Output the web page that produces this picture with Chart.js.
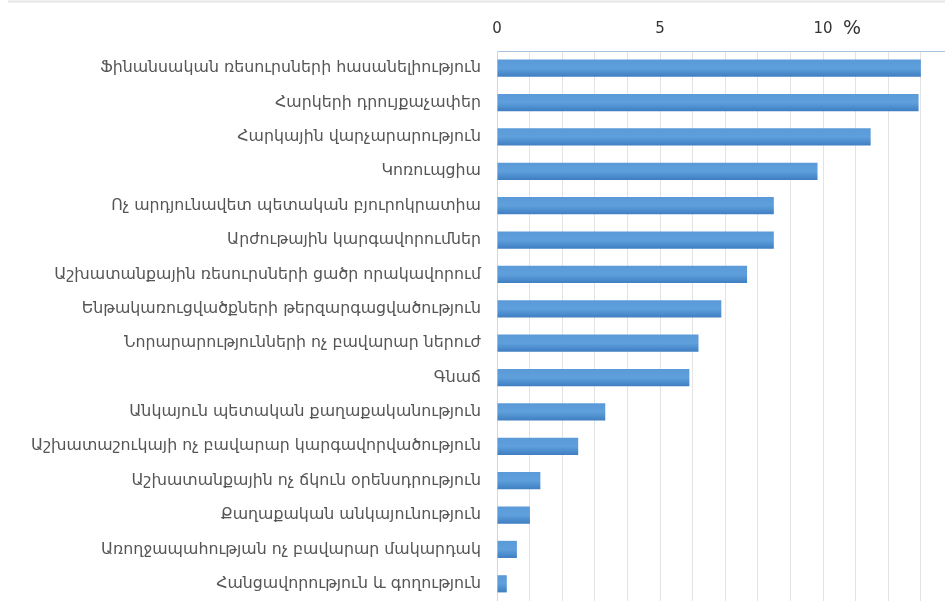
<!DOCTYPE html>
<html>
<head>
<meta charset="utf-8">
<script src="https://cdn.jsdelivr.net/npm/chart.js@4.4.0/dist/chart.umd.min.js"></script>
<style>
html,body{margin:0;padding:0;background:#fff;}
#wrap{width:945px;height:601px;position:relative;}
</style>
</head>
<body>
<div id="wrap"><canvas id="c" width="945" height="601"></canvas></div>
<script>
const categories = [
  "Ֆինանսական ռեսուրսների հասանելիություն",
  "Հարկերի դրույքաչափեր",
  "Հարկային վարչարարություն",
  "Կոռուպցիա",
  "Ոչ արդյունավետ պետական բյուրոկրատիա",
  "Արժութային կարգավորումներ",
  "Աշխատանքային ռեսուրսների ցածր որակավորում",
  "Ենթակառուցվածքների թերզարգացվածություն",
  "Նորարարությունների ոչ բավարար ներուժ",
  "Գնաճ",
  "Անկայուն պետական քաղաքականություն",
  "Աշխատաշուկայի ոչ բավարար կարգավորվածություն",
  "Աշխատանքային ոչ ճկուն օրենսդրություն",
  "Քաղաքական անկայունություն",
  "Առողջապահության ոչ բավարար մակարդակ",
  "Հանցավորություն և գողություն"
];
const values = [13.0, 12.93, 11.46, 9.83, 8.49, 8.49, 7.67, 6.88, 6.18, 5.9, 3.32, 2.49, 1.33, 1.01, 0.61, 0.3];
const tickValues = [0, 5, 10];
const unitLabel = "%";

const decorPlugin = {
  id: 'decor',
  beforeDraw(chart) {
    const ctx = chart.ctx;
    ctx.save();
    ctx.strokeStyle = '#e6e6e6';
    ctx.lineWidth = 2;
    ctx.beginPath();
    ctx.moveTo(8, 1.5);
    ctx.lineTo(945, 1.5);
    ctx.stroke();
    ctx.restore();
  },
  afterDraw(chart) {
    const xs = chart.scales.x;
    const ctx = chart.ctx;
    ctx.save();
    ctx.font = '19px "DejaVu Sans", sans-serif';
    ctx.fillStyle = '#333333';
    ctx.textAlign = 'center';
    ctx.textBaseline = 'middle';
    ctx.fillText(unitLabel, xs.getPixelForValue(10) + 29, 29);
    ctx.restore();
  }
};

new Chart(document.getElementById('c'), {
  type: 'bar',
  data: {
    labels: categories,
    datasets: [{
      data: values,
      backgroundColor: function(ctx) {
        const chart = ctx.chart;
        const ys = chart.scales && chart.scales.y;
        if (!ys || !chart.chartArea) return '#5596d6';
        const cy = ys.getPixelForValue(ctx.dataIndex);
        if (!isFinite(cy)) return '#5596d6';
        const h = 17;
        const g = chart.ctx.createLinearGradient(0, cy - h/2, 0, cy + h/2);
        g.addColorStop(0, '#5a9ad8');
        g.addColorStop(0.5, '#5e9fdc');
        g.addColorStop(1, '#3f7fc2');
        return g;
      },
      borderWidth: 0,
      barPercentage: 0.5,
      categoryPercentage: 1.0
    }]
  },
  options: {
    indexAxis: 'y',
    responsive: false,
    animation: false,
    layout: { padding: 0, autoPadding: false },
    plugins: { legend: { display: false }, tooltip: { enabled: false } },
    scales: {
      x: {
        position: 'top',
        min: 0,
        max: 13.74,
        afterFit(scale) { scale.height = 51; scale.paddingLeft = 0; scale.paddingRight = 0; },
        afterBuildTicks(scale) {
          const t = [];
          for (let v = 0; v <= 13; v++) t.push({ value: v });
          scale.ticks = t;
        },
        ticks: {
          autoSkip: false,
          maxRotation: 0,
          padding: 13,
          color: '#333333',
          font: { family: 'DejaVu Sans', size: 15 },
          callback: (v) => tickValues.includes(v) ? String(v) : ''
        },
        grid: { color: '#e3e3e3', drawTicks: false, lineWidth: 1 },
        border: { color: '#a8c3dd', width: 1 }
      },
      y: {
        afterFit(scale) { scale.width = 497; scale.paddingTop = 0; scale.paddingBottom = 0; },
        ticks: {
          padding: 16,
          color: '#555555',
          font: { family: 'DejaVu Sans', size: 15.8 },
          autoSkip: false
        },
        grid: { display: false, drawTicks: false },
        border: { color: '#d6d6d6', width: 1 }
      }
    }
  },
  plugins: [decorPlugin]
});
</script>
</body>
</html>
